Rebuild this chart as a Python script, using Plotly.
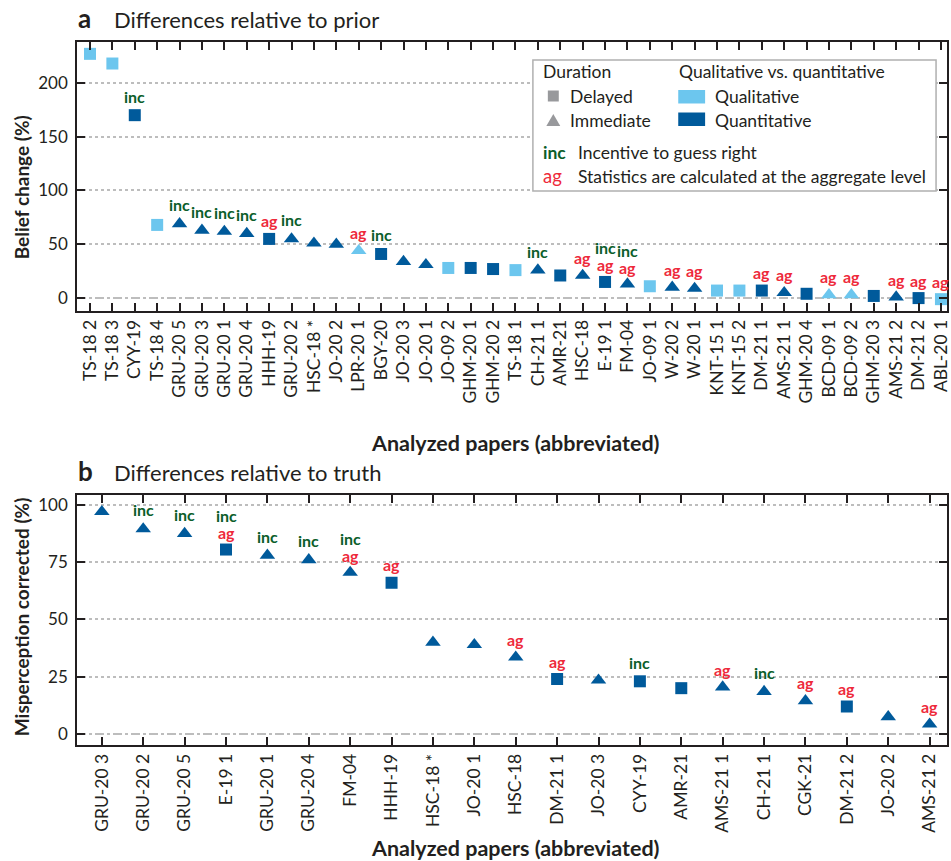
import plotly.graph_objects as go

# ---------------- data ----------------
A_LABELS = ["TS-18 2", "TS-18 3", "CYY-19", "TS-18 4", "GRU-20 5", "GRU-20 3", "GRU-20 1",
            "GRU-20 4", "HHH-19", "GRU-20 2", "HSC-18 *", "JO-20 2", "LPR-20 1", "BGY-20",
            "JO-20 3", "JO-20 1", "JO-09 2", "GHM-20 1", "GHM-20 2", "TS-18 1", "CH-21 1",
            "AMR-21", "HSC-18", "E-19 1", "FM-04", "JO-09 1", "W-20 2", "W-20 1", "KNT-15 1",
            "KNT-15 2", "DM-21 1", "AMS-21 1", "GHM-20 4", "BCD-09 1", "BCD-09 2", "GHM-20 3",
            "AMS-21 2", "DM-21 2", "ABL-20 1"]
A_VALUES = [227, 218, 170, 68, 69, 63, 62, 60, 55, 55, 51, 50, 44, 41, 34, 31, 28, 28, 27, 26,
            26, 21, 21, 15, 13, 11, 10, 9, 7, 7, 7, 5, 4, 3, 3, 2, 1, 0, -1]
# D = delayed (square), I = immediate (triangle)
A_DURATION = ["D", "D", "D", "D", "I", "I", "I", "I", "D", "I", "I", "I", "I", "D", "I", "I",
              "D", "D", "D", "D", "I", "D", "I", "D", "I", "D", "I", "I", "D", "D", "D", "I",
              "D", "I", "I", "D", "I", "D", "D"]
# ql = qualitative, qn = quantitative
A_KIND = ["ql", "ql", "qn", "ql", "qn", "qn", "qn", "qn", "qn", "qn", "qn", "qn", "ql", "qn",
          "qn", "qn", "ql", "qn", "qn", "ql", "qn", "qn", "qn", "qn", "qn", "ql", "qn", "qn",
          "ql", "ql", "qn", "qn", "qn", "ql", "ql", "qn", "qn", "qn", "ql"]
A_INC = ["CYY-19", "GRU-20 5", "GRU-20 3", "GRU-20 1", "GRU-20 4", "GRU-20 2", "BGY-20",
         "CH-21 1", "E-19 1", "FM-04"]
A_AG = ["HHH-19", "LPR-20 1", "HSC-18", "E-19 1", "FM-04", "W-20 2", "W-20 1", "DM-21 1",
        "AMS-21 1", "BCD-09 1", "BCD-09 2", "AMS-21 2", "DM-21 2", "ABL-20 1"]

B_LABELS = ["GRU-20 3", "GRU-20 2", "GRU-20 5", "E-19 1", "GRU-20 1", "GRU-20 4", "FM-04",
            "HHH-19", "HSC-18 *", "JO-20 1", "HSC-18", "DM-21 1", "JO-20 3", "CYY-19",
            "AMR-21", "AMS-21 1", "CH-21 1", "CGK-21", "DM-21 2", "JO-20 2", "AMS-21 2"]
B_VALUES = [97, 89.5, 87.5, 80.5, 78, 76, 70.5, 66, 40, 39, 33.5, 24, 23.5, 23, 20, 20.5,
            18.5, 14.5, 12, 7.5, 4.3]
B_DURATION = ["I", "I", "I", "D", "I", "I", "I", "D", "I", "I", "I", "D", "I", "D", "D", "I",
              "I", "I", "D", "I", "I"]
B_KIND = ["qn"] * len(B_LABELS)
B_INC = ["GRU-20 2", "GRU-20 5", "E-19 1", "GRU-20 1", "GRU-20 4", "FM-04", "CYY-19", "CH-21 1"]
B_AG = ["E-19 1", "FM-04", "HHH-19", "HSC-18", "DM-21 1", "AMS-21 1", "CGK-21", "DM-21 2",
        "AMS-21 2"]

A_YTICKS = [0, 50, 100, 150, 200]
B_YTICKS = [0, 25, 50, 75, 100]

# ---------------- style ----------------
LIGHT = "#6CC6EE"
DARK = "#005A9B"
GREY = "#98999C"
GREEN = "#0B5E2A"
RED = "#EE2A3B"
INK = "#231F20"
FONT = "Lato"

W, H = 951, 861
ML, MR, MT, MB = 77, 0, 42, 116


def px(x):
    return (x - ML) / (W - ML - MR)


def py(y):
    return (H - MB - y) / (H - MT - MB)


fig = go.Figure()


def add_panel(labels, values, durations, kinds, inc, ag, xa, ya):
    xr = "x" if xa == "x" else "x2"
    yr = "y" if ya == "y" else "y2"
    fig.add_shape(type="line", xref=xr + " domain", x0=0, x1=1, yref=yr, y0=0, y1=0,
                  line=dict(color="#A8A8A8", width=1.5, dash="dash"), layer="below")
    for dur, sym, size in (("D", "square", 12), ("I", "triangle-up", 13.5)):
        for kind, col in (("ql", LIGHT), ("qn", DARK)):
            idx = [i for i in range(len(labels)) if durations[i] == dur and kinds[i] == kind]
            if not idx:
                continue
            fig.add_trace(go.Scatter(
                x=[labels[i] for i in idx], y=[values[i] for i in idx],
                mode="markers", xaxis=xa, yaxis=ya, showlegend=False, hoverinfo="skip",
                marker=dict(symbol=sym, color=col, size=size, line=dict(width=0)),
            ))
    for lab, val in zip(labels, values):
        has_inc = lab in inc
        has_ag = lab in ag
        if has_inc:
            fig.add_annotation(x=lab, y=val, xref=xr, yref=yr, text="<b>inc</b>",
                               showarrow=False, yshift=34 if has_ag else 19,
                               font=dict(family=FONT, size=16, color=GREEN))
        if has_ag:
            fig.add_annotation(x=lab, y=val, xref=xr, yref=yr, text="<b>ag</b>",
                               showarrow=False, yshift=17 if has_inc else 18,
                               font=dict(family=FONT, size=16, color=RED))


add_panel(A_LABELS, A_VALUES, A_DURATION, A_KIND, A_INC, A_AG, "x", "y")
add_panel(B_LABELS, B_VALUES, B_DURATION, B_KIND, B_INC, B_AG, "x2", "y2")

common_x = dict(type="category", tickangle=-90, ticks="inside", ticklen=8, tickwidth=1.5,
                tickcolor=INK, showline=True, linewidth=1.5, linecolor=INK, mirror="ticks",
                showgrid=False, zeroline=False,
                tickfont=dict(family=FONT, size=17.5, color=INK))
common_y = dict(ticks="inside", ticklen=8, tickwidth=1.5, tickcolor=INK, showline=True,
                linewidth=1.5, linecolor=INK, mirror="ticks", showgrid=True,
                gridcolor="#BDBDBD", gridwidth=1.5, griddash="dot", zeroline=False,
                ticklabelstandoff=4, tickfont=dict(family=FONT, size=17, color=INK))

fig.update_layout(
    width=W, height=H, margin=dict(l=ML, r=MR, t=MT, b=MB),
    paper_bgcolor="white", plot_bgcolor="white",
    font=dict(family=FONT, color=INK),
    xaxis=dict(common_x, domain=[0, 1], anchor="y", categoryorder="array",
               categoryarray=A_LABELS, range=[-0.58, 38.27]),
    yaxis=dict(common_y, domain=[py(311), 1], anchor="x", range=[-12, 238],
               tickvals=A_YTICKS),
    xaxis2=dict(common_x, domain=[0, 1], anchor="y2", categoryorder="array",
                categoryarray=B_LABELS, range=[-0.6, 20.42]),
    yaxis2=dict(common_y, domain=[0, py(495)], anchor="x2", range=[-4.8, 104.3],
                tickvals=B_YTICKS),
)


def ann(x, y, text, size, color=INK, xanchor="left", angle=0):
    fig.add_annotation(xref="paper", yref="paper", x=px(x), y=py(y), text=text,
                       showarrow=False, xanchor=xanchor, yanchor="middle", textangle=angle,
                       font=dict(family=FONT, size=size, color=color))


# legend box and keys
fig.add_shape(type="rect", xref="paper", yref="paper", x0=px(535), x1=px(940),
              y0=py(191), y1=py(60), line=dict(color="#B0B0B0", width=1.5),
              fillcolor="white", layer="above")
fig.add_shape(type="rect", xref="paper", yref="paper", x0=px(550), x1=px(561),
              y0=py(101.5), y1=py(90.5), line=dict(width=0), fillcolor=GREY, layer="above")
tri = "M {:.5f},{:.5f} L {:.5f},{:.5f} L {:.5f},{:.5f} Z".format(
    px(548.5), py(126), px(562.5), py(126), px(555.5), py(114))
fig.add_shape(type="path", xref="paper", yref="paper", path=tri, line=dict(width=0),
              fillcolor=GREY, layer="above")
fig.add_shape(type="rect", xref="paper", yref="paper", x0=px(681), x1=px(708),
              y0=py(103.5), y1=py(90), line=dict(width=0), fillcolor=LIGHT, layer="above")
fig.add_shape(type="rect", xref="paper", yref="paper", x0=px(681), x1=px(708),
              y0=py(126), y1=py(112.5), line=dict(width=0), fillcolor=DARK, layer="above")

# panel titles
ann(76, 18, "<b>a</b>", 26)
ann(112, 19, "Differences relative to prior", 22)
ann(76, 471, "<b>b</b>", 26)
ann(112, 472, "Differences relative to truth", 22)

# axis titles
ann(518, 443, "<b>Analyzed papers (abbreviated)</b>", 21.5, xanchor="center")
ann(518, 848, "<b>Analyzed papers (abbreviated)</b>", 21.5, xanchor="center")
ann(21, 187, "<b>Belief change (%)</b>", 19, xanchor="center", angle=-90)
ann(21, 617, "<b>Misperception corrected (%)</b>", 19, xanchor="center", angle=-90)

# legend texts
ann(543, 72, "Duration", 17.5)
ann(570, 96, "Delayed", 17.5)
ann(570, 120, "Immediate", 17.5)
ann(680, 72, "Qualitative vs. quantitative", 17.5)
ann(716, 96, "Qualitative", 17.5)
ann(716, 120, "Quantitative", 17.5)
ann(543, 152, "<b>inc</b>", 17.5, GREEN)
ann(578, 152, "Incentive to guess right", 17.5)
ann(543, 176, "ag", 18.5, RED)
ann(578, 176, "Statistics are calculated at the aggregate level", 17.5)

fig.write_html("out.html")
